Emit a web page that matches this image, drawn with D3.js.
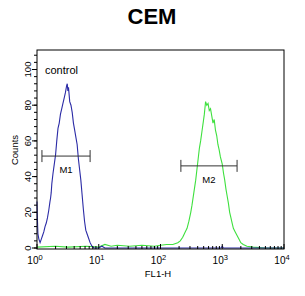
<!DOCTYPE html>
<html>
<head>
<meta charset="utf-8">
<script src="https://cdn.jsdelivr.net/npm/d3@7"></script>
<style>
  html, body { margin: 0; padding: 0; background: #fff; }
  svg { display: block; font-family: "Liberation Sans", Arial, sans-serif; }
</style>
</head>
<body>
<div id="chart"></div>
<script>
// log10(FL1-H) positions and counts
const controlLog = [0.00, 0.005, 0.015, 0.03, 0.05, 0.07, 0.09, 0.11, 0.13, 0.15, 0.17, 0.19, 0.21, 0.22, 0.23, 0.24, 0.26, 0.28, 0.30, 0.32, 0.34, 0.36, 0.38, 0.40, 0.42, 0.44, 0.46, 0.48, 0.49, 0.50, 0.51, 0.53, 0.55, 0.57, 0.59, 0.61, 0.63, 0.65, 0.67, 0.69, 0.71, 0.73, 0.75, 0.77, 0.79, 0.81, 0.83, 0.86, 0.89, 0.92, 1.00, 1.05, 1.10, 2.00, 2.98, 3.00, 3.02, 4.00]
const controlCounts = [26, 18, 8, 5, 3, 5, 7, 9, 12, 14, 17, 21, 26, 28, 31, 36, 42, 47, 52, 60, 67, 70, 75, 78, 81, 84, 87, 91, 92, 88, 90, 82, 80, 76, 70, 66, 62, 58, 50, 44, 38, 30, 22, 15, 10, 8, 6, 3, 1, 0, 0, 1, 0, 0, 0, 1, 0, 0]

const sampleLog = [0.00, 0.30, 0.50, 0.80, 1.00, 1.10, 1.20, 1.30, 1.50, 1.70, 1.90, 2.00, 2.10, 2.20, 2.28, 2.32, 2.36, 2.40, 2.43, 2.46, 2.49, 2.51, 2.54, 2.57, 2.59, 2.61, 2.63, 2.65, 2.67, 2.69, 2.71, 2.73, 2.75, 2.77, 2.79, 2.81, 2.83, 2.85, 2.87, 2.89, 2.91, 2.93, 2.95, 2.97, 3.00, 3.02, 3.04, 3.06, 3.08, 3.10, 3.12, 3.14, 3.16, 3.18, 3.21, 3.24, 3.27, 3.30, 3.34, 3.40, 3.50, 3.70, 4.00]
const sampleCounts = [0.5, 1, 0.5, 1, 0.5, 2, 1, 1.5, 1, 1.5, 1, 1.5, 2, 2, 3, 4, 6, 9, 11, 15, 20, 24, 31, 38, 44, 50, 56, 60, 65, 70, 75, 82, 80, 81, 77, 78, 74, 70, 72, 66, 63, 58, 55, 51, 47, 42, 38, 33, 29, 25, 20, 17, 14, 11, 9, 7, 5, 3, 2, 1, 0.5, 0, 0]

const decades = [0, 1, 2, 3, 4]
const yTicks = [0, 20, 40, 60, 80, 100]

// gates: [from, to] in log10 units, and level in counts
const gates = [
    { name: "M1", from: 0.08, to: 0.86, level: 51.5 },
    { name: "M2", from: 2.33, to: 3.24, level: 46 }
]

const width = 305, height = 296
const svg = d3.select("#chart").append("svg")
    .attr("width", width)
    .attr("height", height)

const x = d3.scaleLinear().domain([0, 4]).range([37, 284])
const y = d3.scaleLinear().domain([0, 100]).range([248, 69.5])
const frameTop = 50, frameBottom = 249

// title
svg.append("text")
    .attr("x", 152).attr("y", 24)
    .attr("text-anchor", "middle")
    .attr("font-size", "22px")
    .attr("font-weight", "bold")
    .text("CEM")

// curves
const line = d3.line().x(d => x(d[0])).y(d => y(d[1]))
svg.append("path")
    .datum(d3.zip(sampleLog, sampleCounts))
    .attr("d", line)
    .attr("fill", "none")
    .attr("stroke", "#3ee03e")
    .attr("stroke-width", 1.1)
svg.append("path")
    .datum(d3.zip(controlLog, controlCounts))
    .attr("d", line)
    .attr("fill", "none")
    .attr("stroke", "#2b2ba6")
    .attr("stroke-width", 1.1)

// frame
svg.append("rect")
    .attr("x", x(0)).attr("y", frameTop)
    .attr("width", x(4) - x(0)).attr("height", frameBottom - frameTop)
    .attr("fill", "none")
    .attr("stroke", "#000")
    .attr("stroke-width", 1)

// x ticks: decades plus log minors, pointing into the plot
const minor = []
decades.slice(0, -1).forEach(d => {
    for (let k = 2; k <= 9; k++) minor.push(d + Math.log10(k))
})
svg.append("g").selectAll("line")
    .data(minor)
    .join("line")
    .attr("x1", d => x(d)).attr("x2", d => x(d))
    .attr("y1", frameBottom).attr("y2", frameBottom - 3)
    .attr("stroke", "#000")
svg.append("g").selectAll("line")
    .data(decades)
    .join("line")
    .attr("x1", d => x(d)).attr("x2", d => x(d))
    .attr("y1", frameBottom).attr("y2", frameBottom - 5)
    .attr("stroke", "#000")

const xl = svg.append("g").selectAll("text")
    .data(decades)
    .join("text")
    .attr("x", d => x(d) - 2)
    .attr("y", 264)
    .attr("text-anchor", "middle")
    .attr("font-size", "10px")
xl.append("tspan").text("10")
xl.append("tspan").attr("dy", -4).attr("font-size", "7.5px").text(d => d)

svg.append("text")
    .attr("x", 158).attr("y", 277)
    .attr("text-anchor", "middle")
    .attr("font-size", "9.5px")
    .text("FL1-H")

// y ticks, outside to the left, minors every 4 counts
const yMinor = d3.range(0, 110, 4)
svg.append("g").selectAll("line")
    .data(yMinor)
    .join("line")
    .attr("x1", x(0) - 3).attr("x2", x(0))
    .attr("y1", d => y(d)).attr("y2", d => y(d))
    .attr("stroke", "#000")
svg.append("g").selectAll("line")
    .data(yTicks)
    .join("line")
    .attr("x1", x(0) - 5).attr("x2", x(0))
    .attr("y1", d => y(d)).attr("y2", d => y(d))
    .attr("stroke", "#000")
svg.append("g").selectAll("text")
    .data(yTicks)
    .join("text")
    .attr("transform", d => `translate(31,${y(d)}) rotate(-90)`)
    .attr("text-anchor", "middle")
    .attr("font-size", "9.5px")
    .text(d => d)

svg.append("text")
    .attr("transform", "translate(18,150) rotate(-90)")
    .attr("text-anchor", "middle")
    .attr("font-size", "9.5px")
    .text("Counts")

// legend label
svg.append("text")
    .attr("x", 45).attr("y", 74)
    .attr("font-size", "11px")
    .text("control")

// gate markers
const g = svg.append("g").selectAll("g")
    .data(gates)
    .join("g")
    .attr("stroke", "#333")
g.append("line")
    .attr("x1", d => x(d.from)).attr("x2", d => x(d.to))
    .attr("y1", d => y(d.level)).attr("y2", d => y(d.level))
g.append("line")
    .attr("x1", d => x(d.from)).attr("x2", d => x(d.from))
    .attr("y1", d => y(d.level) - 6).attr("y2", d => y(d.level) + 6)
g.append("line")
    .attr("x1", d => x(d.to)).attr("x2", d => x(d.to))
    .attr("y1", d => y(d.level) - 6).attr("y2", d => y(d.level) + 6)
g.append("text")
    .attr("stroke", "none")
    .attr("fill", "#000")
    .attr("x", d => (x(d.from) + x(d.to)) / 2)
    .attr("y", d => y(d.level) + 17)
    .attr("text-anchor", "middle")
    .attr("font-size", "9.5px")
    .text(d => d.name)
</script>
</body>
</html>
